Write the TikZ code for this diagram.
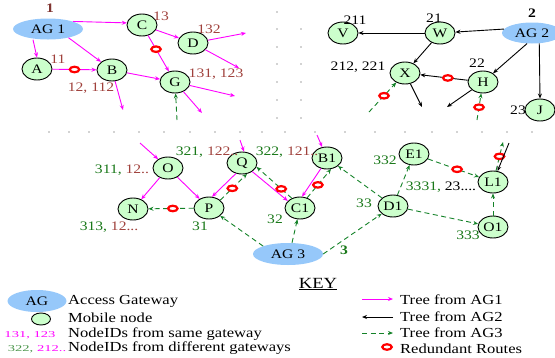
\documentclass[tikz,border=0pt]{standalone}
\usepackage{fontspec}
\setmainfont{Liberation Serif}[FakeStretch=1.2]
\usetikzlibrary{shapes.geometric,arrows.meta}
\definecolor{agblue}{RGB}{150,200,250}
\definecolor{mnfill}{RGB}{204,255,204}
\definecolor{idred}{RGB}{160,65,60}
\definecolor{idgreen}{RGB}{25,120,25}
\definecolor{trgreen}{RGB}{20,130,40}
\definecolor{mag}{RGB}{255,0,255}
\begin{document}
\begin{tikzpicture}[x=1pt,y=-1pt,
 mn/.style={ellipse,draw=black,line width=0.9pt,fill=mnfill,minimum width=30pt,minimum height=22pt,inner sep=0pt,font=\fontsize{13}{13}\selectfont},
 ag/.style={ellipse,fill=agblue,minimum width=70pt,minimum height=21pt,inner sep=0pt,font=\fontsize{13}{13}\selectfont},
 lbl/.style={inner sep=0pt,font=\fontsize{13}{13}\selectfont},
 redl/.style={lbl,text=idred},
 grnl/.style={lbl,text=idgreen},
 blkl/.style={lbl,text=black},
 keyt/.style={inner sep=0pt,anchor=west,font=\fontsize{13.8}{13.8}\selectfont},
 ring/.style={ellipse,draw=red,solid,line width=2.2pt,fill=white,minimum width=9.5pt,minimum height=5.5pt,inner sep=0pt},
 tipa/.style={-{Stealth[length=5pt,width=4pt]}},
 t1/.style={draw=mag,line width=0.9pt,tipa},
 t2/.style={draw=black,line width=0.9pt,tipa},
 t3/.style={draw=trgreen,line width=0.9pt,dash pattern=on 5pt off 3.5pt,tipa},
]
\useasboundingbox (0,0) rectangle (555,357);
\clip (0,0) rectangle (555,357);

% separators (dots)
\foreach \yy in {12,29,47,64,82,100,118} \fill[black!75] (277,\yy) circle (0.7pt);
\foreach \yy in {29,47,64,82,100,118} \fill[black!75] (301,\yy) circle (0.7pt);
\foreach \xx in {49,69,89,114,139,164,190,215,240,262,285,315,345,375,405,432,457,482,507,532} \fill[black!75] (\xx,132) circle (0.7pt);

% ---------- gateway 1 ----------
\node[ag] (AG1) at (48,29) {AG 1};
\node[lbl,text=idred!80!black,font=\bfseries\fontsize{13}{13}\selectfont] (n1) at (50,8) {1};
\node[mn] (A) at (37,69) {A};
\node[mn] (B) at (112,70) {B};
\node[mn] (C) at (142,25) {C};
\node[mn] (D) at (193,43) {D};
\node[mn] (G) at (175,82) {G};
\node[redl] (lC) at (161,16) {13};
\node[redl] (lD) at (209,29) {132};
\node[redl] (lA) at (58,59) {11};
\node[redl] (lB) at (91,88) {12, 112};
\node[redl] (lG) at (216,74) {131, 123};
\coordinate (d1) at (246,33);
\coordinate (d2) at (239,68);
\coordinate (b1) at (123,110);
\coordinate (g1) at (235,96);
\coordinate (g2) at (202,113);
\coordinate (gin) at (177,120);

\draw[t1] (AG1.north east) -- (C.172);
\draw[t1] ([xshift=-15pt]AG1.south) -- (A.north);
\draw[t1] (AG1.-23) -- (B);
\draw[t1] (A) -- node[ring,pos=.5] (rAB) {} (B);
\draw[t1] (C) -- (D);
\draw[t1] (C) -- node[ring,pos=.38] (rCG) {} (G);
\draw[t1] (D) -- (d1);
\draw[t1] (D) -- (d2);
\draw[t1] (B) -- (G);
\draw[t1] (B) -- (b1);
\draw[t1] (G) -- (g1);
\draw[t1] (G) -- (g2);
\draw[t3] (gin) -- (G);

% ---------- gateway 2 ----------
\node[ag,minimum width=60pt] (AG2) at (532,33) {AG 2};
\node[lbl,font=\bfseries\fontsize{13}{13}\selectfont] (n2) at (532,13) {2};
\node[mn] (V) at (343,33) {V};
\node[mn] (W) at (440,33) {W};
\node[mn] (X) at (405,73) {X};
\node[mn] (H) at (483,82) {H};
\node[mn] (J) at (540,110) {J};
\node[blkl] (lV) at (355,20) {211};
\node[blkl] (lW) at (434,18) {21};
\node[blkl] (lX) at (358,67) {212, 221};
\node[blkl] (lH) at (477,63) {22};
\node[blkl] (lJ) at (518,110) {23};
\coordinate (x1) at (422,107);
\coordinate (h1) at (447,107);
\coordinate (xin) at (369,112);
\coordinate (hin) at (477,120);

\draw[t2] (AG2.172) -- (W);
\draw[t2] (W) -- (V);
\draw[t2] (W) -- (X);
\draw[t2] (AG2.-115) -- (H);
\draw[t2] (AG2.-55) -- (J.north);
\draw[t2] (H) -- node[ring,pos=.42] (rHX) {} (X);
\draw[t2] (X) -- (x1);
\draw[t2] (H) -- (h1);
\draw[t3] (xin) -- node[ring,pos=.55] (rX) {} (X);
\draw[t3] (hin) -- node[ring,pos=.48] (rH) {} (H);

% ---------- gateway 3 ----------
\node[ag,minimum height=22pt] (AG3) at (288,254) {AG 3};
\node[lbl,text=idgreen,font=\bfseries\fontsize{13}{13}\selectfont] (n3) at (344,250) {3};
\node[mn] (O) at (168,168) {O};
\node[mn] (Q) at (242,163) {Q};
\node[mn] (P) at (209,208) {P};
\node[mn] (N) at (133,209) {N};
\node[mn] (B1) at (327,158) {B1};
\node[mn] (C1) at (300,208) {C1};
\node[mn] (E1) at (414,154) {E1};
\node[mn] (D1) at (393,206) {D1};
\node[mn] (L1) at (493,182) {L1};
\node[mn] (O1) at (493,227) {O1};

\node[lbl] (lO) at (122,170) {\textcolor{idgreen}{311,} \textcolor{idred}{12..}};
\node[lbl] (lN) at (109,227) {\textcolor{idgreen}{313,} \textcolor{idred}{12...}};
\node[lbl] (lQ) at (207,152) {\textcolor{idgreen}{321,} \textcolor{idred}{122..}};
\node[lbl] (lB1) at (287,152) {\textcolor{idgreen}{322,} \textcolor{idred}{121..}};
\node[grnl] (lP) at (200,226) {31};
\node[grnl] (lC1) at (275,219) {32};
\node[grnl] (lE1) at (385,160) {332};
\node[grnl] (lD1) at (364,203) {33};
\node[grnl] (lO1) at (468,235) {333};

\coordinate (oin) at (140,143);
\coordinate (qin) at (240,140);
\coordinate (bin) at (317,135);
\coordinate (lup) at (503,142);
\coordinate (lblk) at (509,143);

\draw[t1] (oin) -- (O);
\draw[t1] (qin) -- (Q.80);
\draw[t1] (bin) -- (B1);
\draw[t1] (O) -- (N);
\draw[t1] (O) -- (P);
\draw[t1] (Q.-120) -- (P.75);
\draw[t1] (Q.-40) -- (C1.150);
\draw[t1] (B1.-120) -- (C1.80);

\draw[t3] (P) -- node[ring,pos=.46] (rPN) {} (N);
\draw[t3] (P.35) -- node[ring,pos=.45] (rPQ) {} (Q.-65);
\draw[t3] (C1.130) -- node[ring,pos=.3] (rCQ) {} (Q.-15);
\draw[t3] (C1.55) -- node[ring,pos=.45] (rCB) {} (B1.-70);
\draw[t3] (AG3.north west) -- (P);
\draw[t3] ([xshift=4pt]AG3.north) -- (C1);
\draw[t3] (AG3.east) -- (D1);
\draw[t3] (D1) -- (B1);
\draw[t3] (D1) -- (E1);
\draw[t3] (E1) -- node[ring,pos=.57] (rEL) {} (L1);
\draw[t3] (D1) -- (O1);
\draw[t3] (O1) -- (L1);
\draw[t3] (L1.75) -- node[ring,pos=.5] (rLU) {} (lup);
\draw[t2] (lblk) -- (L1);
\node[lbl] (lL1) at (441,187) {\textcolor{idgreen}{3331,} 23....};

% ---------- key ----------
\node[inner sep=0pt,font=\fontsize{15.5}{15.5}\selectfont] (key) at (318,284) {\underline{KEY}};
\node[ag,minimum width=59pt,minimum height=22pt] (kAG) at (37,301) {AG};
\node[keyt] (kAGt) at (68,301) {Access Gateway};
\node[mn,minimum width=19pt,minimum height=12pt] (kMN) at (41,319) {};
\node[keyt] (kMNt) at (68,318) {Mobile node};
\node[inner sep=0pt,text=mag,font=\fontsize{9}{9}\selectfont] (kS) at (30,335) {\scalebox{1.35}[1]{131, 123}};
\node[keyt] (kSt) at (68,334) {NodeIDs from same gateway};
\node[inner sep=0pt,font=\fontsize{9}{9}\selectfont] (kD) at (37,349) {\scalebox{1.35}[1]{\textcolor{idgreen!80!white}{322,} \textcolor{mag}{212..}}};
\node[keyt] (kDt) at (68,348.5) {NodeIDs from different gateways};

\coordinate (k1a) at (362,299); \coordinate (k1b) at (393,299);
\coordinate (k2a) at (393,317); \coordinate (k2b) at (362,317);
\coordinate (k3a) at (362,333); \coordinate (k3b) at (393,333);
\draw[t1] (k1a) -- (k1b);
\draw[t2] (k2a) -- (k2b);
\draw[t3] (k3a) -- (k3b);
\node[keyt] (k1t) at (400,300) {Tree from AG1};
\node[keyt] (k2t) at (400,317) {Tree from AG2};
\node[keyt] (k3t) at (400,333) {Tree from AG3};
\node[ring] (kR) at (387,347) {};
\node[keyt] (kRt) at (400,348.5) {Redundant Routes};
\end{tikzpicture}
\end{document}
